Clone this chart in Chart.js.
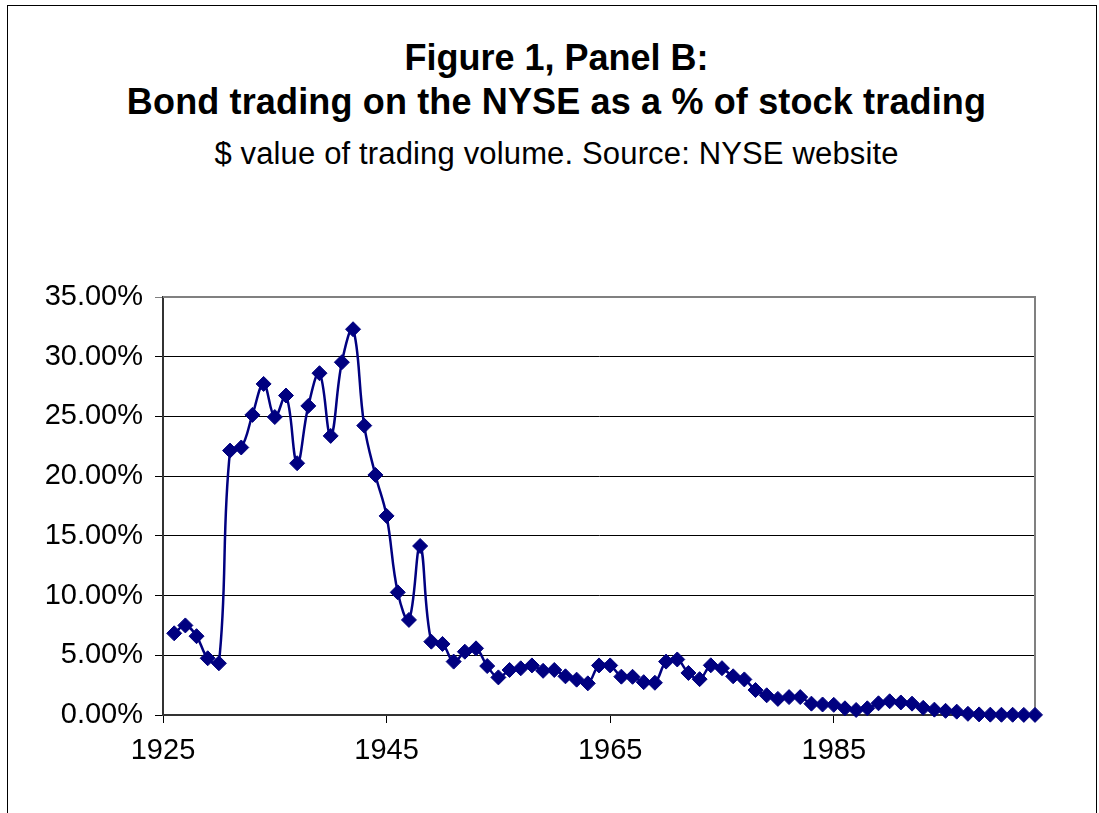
<!DOCTYPE html>
<html>
<head>
<meta charset="utf-8">
<title>Figure 1, Panel B</title>
<script src="https://cdn.jsdelivr.net/npm/chart.js@4.4.1/dist/chart.umd.min.js"></script>
<style>
  html, body { margin: 0; width: 1099px; height: 813px; overflow: hidden; background: #fff; }
  body { font-family: "Liberation Sans", Arial, sans-serif; color: #000; position: relative; }
  #frame { position: absolute; left: 7px; top: 5px; width: 1088px; height: 840px; border: 1.5px solid #000; }
  .ttl { position: absolute; left: 7px; width: 1099px; text-align: center; line-height: 1; white-space: nowrap; }
  #t1 { top: 40px; font-size: 36px; font-weight: bold; }
  #t2 { top: 84px; font-size: 36px; font-weight: bold; letter-spacing: 0.15px; }
  #t3 { top: 138px; font-size: 31px; letter-spacing: 0.15px; }
  canvas { position: absolute; left: 0; top: 0; }
</style>
</head>
<body>
<div id="frame"></div>
<div class="ttl" id="t1">Figure 1, Panel B:</div>
<div class="ttl" id="t2">Bond trading on the NYSE as a % of stock trading</div>
<div class="ttl" id="t3">$ value of trading volume. Source: NYSE website</div>
<canvas id="bondChart" width="1099" height="813"></canvas>

<script>
// --- DATA ---
const years = [
    1926, 1927, 1928, 1929, 1930, 1931, 1932, 1933, 1934, 1935,
    1936, 1937, 1938, 1939, 1940, 1941, 1942, 1943, 1944, 1945,
    1946, 1947, 1948, 1949, 1950, 1951, 1952, 1953, 1954, 1955,
    1956, 1957, 1958, 1959, 1960, 1961, 1962, 1963, 1964, 1965,
    1966, 1967, 1968, 1969, 1970, 1971, 1972, 1973, 1974, 1975,
    1976, 1977, 1978, 1979, 1980, 1981, 1982, 1983, 1984, 1985,
    1986, 1987, 1988, 1989, 1990, 1991, 1992, 1993, 1994, 1995,
    1996, 1997, 1998, 1999, 2000, 2001, 2002, 2003
];

// bond trading as % of stock trading
const bondPct = [
    6.84, 7.50, 6.60, 4.75, 4.33, 22.14, 22.40, 25.13, 27.72, 24.95,
    26.75, 21.08, 25.88, 28.62, 23.37, 29.54, 32.30, 24.23, 20.10, 16.67,
    10.27, 7.96, 14.15, 6.14, 5.95, 4.47, 5.30, 5.58, 4.10, 3.15,
    3.77, 3.91, 4.15, 3.70, 3.77, 3.24, 2.96, 2.65, 4.15, 4.15,
    3.21, 3.20, 2.75, 2.70, 4.47, 4.65, 3.52, 3.00, 4.16, 3.92,
    3.24, 2.98, 2.09, 1.65, 1.35, 1.50, 1.50, 0.95, 0.88, 0.85,
    0.56, 0.42, 0.56, 0.98, 1.15, 1.05, 0.95, 0.60, 0.45, 0.35,
    0.28, 0.10, 0.05, 0.03, 0.02, 0.02, 0.01, 0.01
];

const xTicks = [1925, 1945, 1965, 1985];
const xMin = 1925;
const xMax = 2003;
const yMax = 35;
const yStep = 5;

// --- STYLE ---
const navy = '#000080';
const fontFamily = "'Liberation Sans', Arial, sans-serif";

// gray frame on top and right of the plot area (Excel style)
const plotFrame = {
    id: 'plotFrame',
    beforeDatasetsDraw(chart) {
        const a = chart.chartArea;
        const c = chart.ctx;
        c.save();
        c.strokeStyle = '#808080';
        c.lineWidth = 2;
        c.beginPath();
        c.moveTo(a.left, a.top);
        c.lineTo(a.right, a.top);
        c.lineTo(a.right, a.bottom);
        c.stroke();
        c.restore();
    }
};

const ctx = document.getElementById('bondChart');
new Chart(ctx, {
    type: 'line',
    data: {
        datasets: [{
            label: 'Bond / stock trading',
            data: years.map((yr, i) => ({ x: yr, y: bondPct[i] })),
            borderColor: navy,
            borderWidth: 2.5,
            backgroundColor: navy,
            pointStyle: 'rectRot',
            pointRadius: 7.5,
            pointBorderWidth: 1,
            pointBackgroundColor: navy,
            pointBorderColor: navy,
            tension: 0.4,
            fill: false,
            clip: false
        }]
    },
    options: {
        responsive: false,
        animation: false,
        layout: { padding: { top: 297, right: 64, left: 0, bottom: 0 } },
        plugins: {
            legend: { display: false },
            tooltip: { enabled: false }
        },
        scales: {
            x: {
                type: 'linear',
                min: xMin,
                max: xMax,
                afterBuildTicks: scale => { scale.ticks = xTicks.map(v => ({ value: v })); },
                afterFit: scale => { scale.height = 98; },
                ticks: {
                    callback: v => String(v),
                    font: { family: fontFamily, size: 29 },
                    color: '#000',
                    padding: 11,
                    maxRotation: 0,
                    autoSkip: false
                },
                grid: { drawOnChartArea: false, drawTicks: true, tickLength: 8, color: '#000', lineWidth: 1 },
                border: { color: '#333', width: 2 }
            },
            y: {
                min: 0,
                max: yMax,
                afterFit: scale => { scale.width = 163; },
                ticks: {
                    stepSize: yStep,
                    callback: v => v.toFixed(2) + '%',
                    font: { family: fontFamily, size: 29 },
                    color: '#000',
                    padding: 12
                },
                grid: {
                    color: c => (c.tick && c.tick.value === yMax ? '#808080' : '#000'),
                    lineWidth: 1,
                    tickLength: 8
                },
                border: { color: '#333', width: 2 }
            }
        }
    },
    plugins: [plotFrame]
});
</script>
</body>
</html>
